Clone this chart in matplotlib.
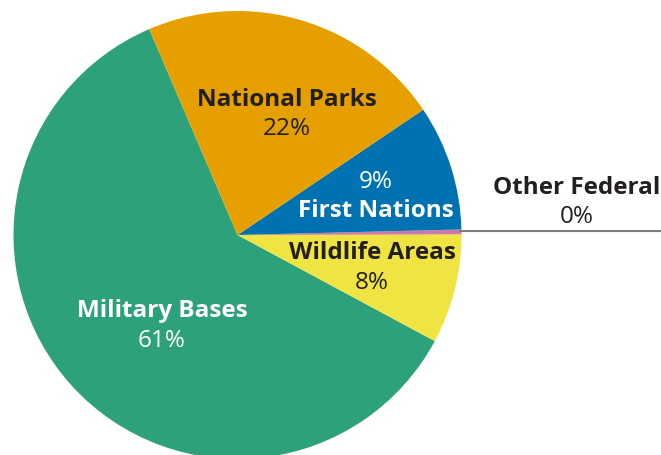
import matplotlib
matplotlib.use("Agg")
import matplotlib.pyplot as plt

categories = ["Military Bases", "Wildlife Areas", "Other Federal", "First Nations", "National Parks"]
values = [60.7, 7.9, 0.35, 9.05, 22.0]
colors = ["#2ca17a", "#f0e442", "#cc79a7", "#0072b2", "#e5a000"]
label_colors = ["white", "#231f20", "#231f20", "white", "#231f20"]

W, H = 661, 455
fig = plt.figure(figsize=(W / 100, H / 100), dpi=100)
ax = fig.add_axes([0, 0, 1, 1])

cx, cy, r = 237.5, H - 235, 224
ax.pie(values, colors=colors, startangle=113.2, counterclock=True,
       center=(cx, cy), radius=r, frame=True,
       wedgeprops=dict(linewidth=0))
ax.set_xlim(0, W)
ax.set_ylim(0, H)
ax.set_aspect("equal")
ax.axis("off")

font = "Open Sans"
bold_size = 17.5
pct_size = 17.5

# label positions (pixel coords: x, name line y, pct line y)
layout = {
    "Military Bases": (162, 311, 341),
    "National Parks": (287, 100, 129),
    "First Nations": (376, 211, 182),
    "Wildlife Areas": (372, 253, 283),
    "Other Federal": (577, 188, 217),
}
for name, val, lc in zip(categories, values, label_colors):
    x, yn, yp = layout[name]
    ax.text(x, H - yn, name, ha="center", va="center", fontsize=bold_size,
            fontweight="bold", family=font, color=lc)
    ax.text(x, H - yp, f"{round(val):d}%", ha="center", va="center",
            fontsize=pct_size, family=font, color=lc)

# leader line for Other Federal
ax.plot([459, W], [H - 230.7, H - 230.7], color="#7f7f7f", lw=1.5,
        solid_capstyle="butt", clip_on=False)

fig.savefig("out.png", dpi=100)
